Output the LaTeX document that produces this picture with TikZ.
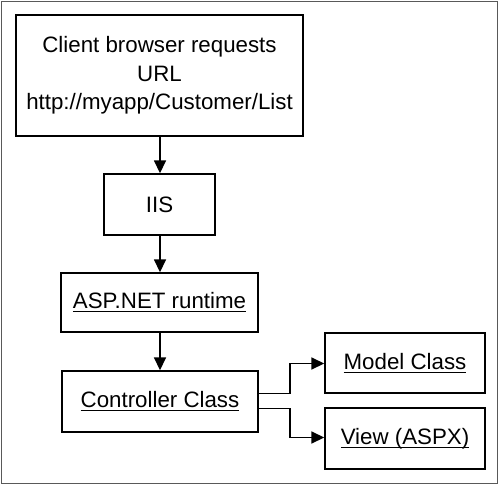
\documentclass[tikz,border=0pt]{standalone}
\usepackage{fontspec}
\setmainfont{Liberation Sans}
\usetikzlibrary{arrows.meta}
\newcommand{\myul}[1]{\setbox0\hbox{#1}\rlap{\rule[-3.5bp]{\wd0}{1.1bp}}\box0}
\begin{document}
\begin{tikzpicture}[x=1bp,y=-1bp,
  box/.style={draw=black,line width=1.4bp,minimum width=#1,inner sep=0pt,align=center,
    font=\fontsize{22.3bp}{28.5bp}\selectfont},
  conn/.style={line width=1.6bp,-{Triangle[length=13bp,width=12bp]}}]
\useasboundingbox (0,0) rectangle (500,485);
\draw[draw=black!65,line width=1.8bp] (1.5,1.5) rectangle (497.5,483.5);
\node[box=287bp,minimum height=121bp] (b1) at (159.5,75.5) {Client browser requests\\URL\\http://myapp/Customer/List};
\node[box=111bp,minimum height=61bp] (b2) at (159.5,204.5) {IIS};
\node[box=197bp,minimum height=59bp] (b3) at (159.5,302.5) {\myul{ASP.NET runtime}};
\node[box=196bp,minimum height=61bp] (b4) at (160,401.5) {\myul{Controller Class}};
\node[box=160bp,minimum height=60bp] (m) at (405,363) {\myul{Model Class}};
\node[box=160bp,minimum height=61bp] (v) at (405,438.5) {\myul{View (ASPX)}};
\coordinate (k1) at (290,363.5);
\coordinate (k2) at (290,437.5);
\draw[conn] (b1.south -| 160,0) -- (b2.north -| 160,0);
\draw[conn] (b2.south -| 160,0) -- (b3.north -| 160,0);
\draw[conn] (b3.south -| 160,0) -- (b4.north -| 160,0);
\draw[conn] ([yshift=8bp]b4.east) -| (k1) -- (k1 -| m.west);
\draw[conn] ([yshift=-7bp]b4.east) -| (k2) -- (k2 -| v.west);
\end{tikzpicture}
\end{document}
